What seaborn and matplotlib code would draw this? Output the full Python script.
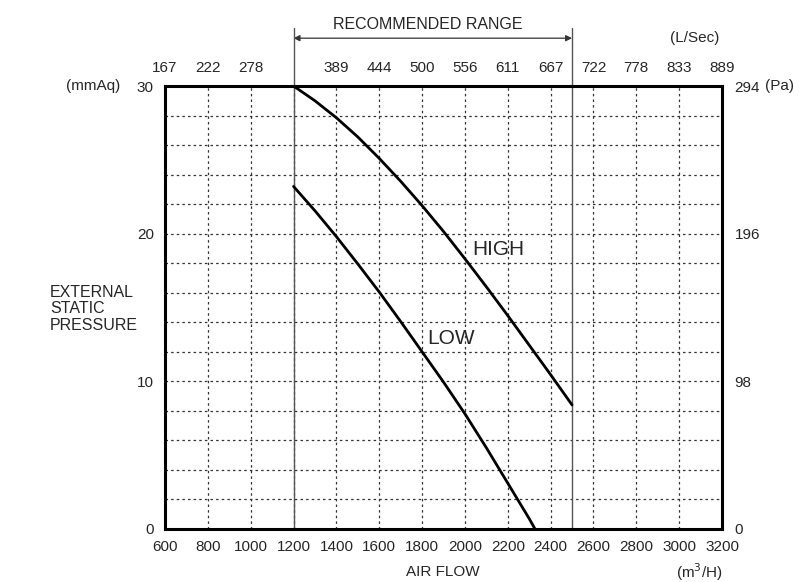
import numpy as np
import pandas as pd
import seaborn as sns
import matplotlib.pyplot as plt

# chart data
airflow_high = [1200, 1300, 1400, 1500, 1600, 1700, 1800, 1900, 2000, 2100, 2200, 2300, 2400, 2500]
pressure_high = [30.0, 29.0, 27.85, 26.55, 25.1, 23.55, 21.9, 20.15, 18.3, 16.4, 14.45, 12.45, 10.45, 8.4]
airflow_low = [1200, 1300, 1400, 1500, 1600, 1700, 1800, 1900, 2000, 2100, 2200, 2300, 2327]
pressure_low = [23.2, 21.55, 19.8, 17.95, 16.05, 14.05, 12.0, 9.95, 7.8, 5.5, 3.1, 0.7, 0.0]

x_ticks = [600, 800, 1000, 1200, 1400, 1600, 1800, 2000, 2200, 2400, 2600, 2800, 3000, 3200]
top_ticks = [600, 800, 1000, 1400, 1600, 1800, 2000, 2200, 2400, 2600, 2800, 3000, 3200]
top_labels = ["167", "222", "278", "389", "444", "500", "556", "611", "667",
              "722", "778", "833", "889"]
y_ticks = [0, 10, 20, 30]
pa_labels = ["0", "98", "196", "294"]
range_lo, range_hi = 1200, 2500

df = pd.concat([
    pd.DataFrame({"flow": airflow_high, "esp": pressure_high, "speed": "HIGH"}),
    pd.DataFrame({"flow": airflow_low, "esp": pressure_low, "speed": "LOW"}),
])

sns.set_style("white")
plt.rcParams["font.family"] = ["Liberation Sans", "DejaVu Sans"]
plt.rcParams["font.size"] = 11

fig = plt.figure(figsize=(8.1, 5.82), dpi=100)
ax = fig.add_axes([0.2037, 0.0911, 0.6877, 0.7611])

sns.lineplot(data=df, x="flow", y="esp", hue="speed", palette=["black", "black"],
             linewidth=2.0, legend=False, ax=ax, zorder=5)
for ln in ax.lines:
    ln.set_solid_joinstyle("round")

ax.set_xlim(600, 3200)
ax.set_ylim(0, 30)
ax.set_xticks(x_ticks)
ax.set_yticks(y_ticks)
ax.set_xlabel("")
ax.set_ylabel("")
ax.tick_params(length=0, pad=8, labelsize=11)

# dotted grid
for gx in range(800, 3200, 200):
    ax.axvline(gx, color="#333333", lw=0.9, ls=(0, (2, 2.5)), zorder=1)
for gy in range(2, 30, 2):
    ax.axhline(gy, color="#333333", lw=0.9, ls=(0, (2, 2.5)), zorder=1)

for s in ax.spines.values():
    s.set_linewidth(2.2)
    s.set_color("black")
    s.set_zorder(6)

# recommended range markers
for rx in (range_lo, range_hi):
    ax.plot([rx, rx], [0, 1.131], transform=ax.get_xaxis_transform(),
            color="#555555", lw=1.0, clip_on=False, zorder=4)
ax.annotate("", xy=(range_lo, 1.108), xytext=(range_hi, 1.108),
            xycoords=ax.get_xaxis_transform(),
            arrowprops=dict(arrowstyle="<|-|>", color="#333333", lw=0.9,
                            mutation_scale=9, shrinkA=0, shrinkB=0))
ax.text((range_lo + range_hi) / 2 - 25, 1.138, "RECOMMENDED RANGE",
        transform=ax.get_xaxis_transform(), ha="center", va="center", fontsize=11.5)

# top axis (L/Sec)
top = ax.twiny()
top.set_xlim(ax.get_xlim())
top.set_xticks(top_ticks)
top.set_xticklabels(top_labels)
top.tick_params(length=0, pad=8, labelsize=11)

# right axis (Pa)
right = ax.twinx()
right.set_ylim(ax.get_ylim())
right.set_yticks(y_ticks)
right.set_yticklabels(pa_labels)
right.tick_params(length=0, pad=9, labelsize=11)
for a in (top, right):
    for s in a.spines.values():
        s.set_visible(False)

# curve labels
ax.text(2035, 18.9, "HIGH", fontsize=15, va="center", ha="left", zorder=7)
ax.text(1825, 12.9, "LOW", fontsize=15, va="center", ha="left", zorder=7)

# unit and axis texts
ax.text(-0.081, 1.0, "(mmAq)", transform=ax.transAxes, ha="right", va="center", fontsize=11)
ax.text(1.077, 1.0, "(Pa)", transform=ax.transAxes, ha="left", va="center", fontsize=11)
ax.text(0.9515, 1.108, "(L/Sec)", transform=ax.transAxes, ha="center", va="center", fontsize=11)
ax.text(0.499, -0.097, "AIR FLOW", transform=ax.transAxes, ha="center", va="center", fontsize=11)
ax.text(0.96, -0.097, "(m$^3$/H)", transform=ax.transAxes, ha="center", va="center", fontsize=11)
ax.text(-0.2065, 0.497, "EXTERNAL\nSTATIC\nPRESSURE", transform=ax.transAxes,
        ha="left", va="center", fontsize=11.5, linespacing=1.15)

fig.savefig("out.png", dpi=100)
